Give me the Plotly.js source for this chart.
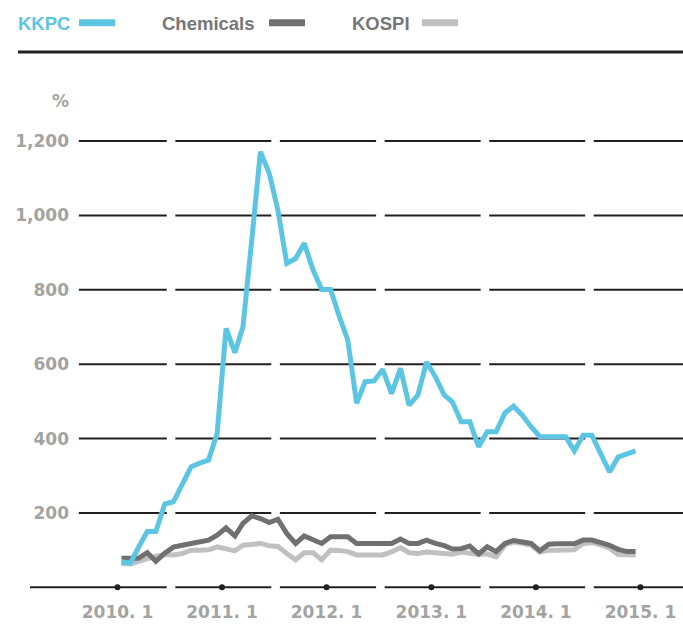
<!DOCTYPE html>
<html><head><meta charset="utf-8">
<script src="https://cdn.plot.ly/plotly-3.0.1.min.js"></script>
<style>html,body{margin:0;padding:0;background:#fff}#chart{width:683px;height:624px}</style>
</head><body><div id="chart"></div>
<script>
// ---- data ----
const startYear = 2010;            // first monthly observation: 2010.1
const seriesNames = ['KKPC', 'Chemicals', 'KOSPI'];
const kkpc = [69, 65, 107, 150, 150, 224, 230, 277, 324, 334, 342, 414,
  696, 631, 700, 935, 1171, 1113, 1014, 871, 884, 925, 853, 801,
  801, 727, 665, 495, 553, 555, 586, 521, 589, 490, 517, 606,
  566, 517, 499, 445, 445, 378, 418, 418, 469, 487, 462, 432,
  405, 405, 405, 405, 367, 409, 409, 358, 310, 350, 359, 367];
const chemicals = [78, 78, 78, 93, 70, 92, 108, 113, 117, 121, 127, 140,
  160, 138, 172, 192, 185, 174, 183, 145, 118, 138, 128, 118,
  136, 136, 136, 118, 118, 118, 118, 118, 130, 118, 118, 127,
  118, 112, 103, 104, 111, 90, 109, 96, 118, 126, 122, 118,
  98, 116, 117, 117, 117, 127, 127, 120, 113, 102, 96, 96];
const kospi = [64, 63, 70, 78, 84, 88, 87, 91, 100, 100, 101, 109,
  102, 98, 113, 115, 118, 112, 110, 91, 74, 93, 93, 74,
  100, 99, 96, 87, 87, 86, 87, 95, 107, 93, 91, 95,
  93, 91, 89, 95, 92, 88, 90, 82, 114, 122, 118, 114,
  95, 100, 100, 100, 101, 118, 120, 114, 105, 88, 87, 87];
const yearTicks = ['2010-01-01', '2011-01-01', '2012-01-01', '2013-01-01', '2014-01-01', '2015-01-01'];
const yearLabels = ['2010. 1', '2011. 1', '2012. 1', '2013. 1', '2014. 1', '2015. 1'];
const yTicks = [200, 400, 600, 800, 1000, 1200];
const yTickLabels = ['200', '400', '600', '800', '1,000', '1,200'];

// ---- build ----
const months = kkpc.map((_, i) => {
  const d = new Date(Date.UTC(startYear, i, 15));
  return d.toISOString().slice(0, 10);
});

const colors = ['#5bc5e3', '#707070', '#c0c0c0'];
const textColors = ['#5bc5e3', '#767676', '#767676'];
const gridColor = '#231f20';
const labelColor = '#a3a3a3';
const labelFont = {family: 'DejaVu Sans', size: 17, color: labelColor, weight: 'bold'};

const W = 683, H = 624;
const M = {l: 30, r: 0, t: 60, b: 24};
const px = x => (x - M.l) / (W - M.l - M.r);
const py = y => (H - M.b - y) / (H - M.t - M.b);

const xRange = ['2009-03-01 12:00', '2015-05-29 14:00'];
const yRange = [-34.1, 1417.9];

// gridline segments, broken mid-year
const yrs = yearTicks.map(d => d.slice(0, 4));
function segments(firstStart) {
  const starts = [firstStart].concat(yrs.slice(0, 5).map(y => y + '-07-22'));
  const ends = yrs.slice(0, 5).map(y => y + '-06-22').concat([xRange[1]]);
  return starts.map((s, i) => [s, ends[i]]);
}
const shapes = [];
yTicks.forEach(v => {
  segments('2009-08-19').forEach(([a, b]) => shapes.push({
    type: 'line', xref: 'x', yref: 'y', x0: a, x1: b, y0: v, y1: v,
    line: {color: gridColor, width: 2}, layer: 'below'
  }));
});
segments(xRange[0]).forEach(([a, b]) => shapes.push({
  type: 'line', xref: 'x', yref: 'y', x0: a, x1: b, y0: 0, y1: 0,
  line: {color: gridColor, width: 2}, layer: 'below'
}));
// top rule
shapes.push({type: 'line', xref: 'paper', yref: 'paper', x0: px(18), x1: px(683), y0: py(52), y1: py(52),
  line: {color: gridColor, width: 3}});

// legend (text then swatch)
const legTextX = [16, 160, 350];
const legSwX = [79, 269, 422];
const annotations = [];
seriesNames.forEach((n, i) => {
  annotations.push({xref: 'paper', yref: 'paper', x: px(legTextX[i]), y: py(23), xanchor: 'left', yanchor: 'middle',
    text: n, showarrow: false, font: {family: 'Liberation Sans', size: 18.5, color: textColors[i], weight: 'bold'}});
  shapes.push({type: 'rect', xref: 'paper', yref: 'paper', x0: px(legSwX[i]), x1: px(legSwX[i] + 36),
    y0: py(26.3), y1: py(19.3), fillcolor: colors[i], line: {width: 0}});
});
annotations.push({xref: 'paper', yref: 'paper', x: px(71), y: py(101), xanchor: 'right', yanchor: 'middle',
  text: '%', showarrow: false, font: labelFont});

const seriesData = [kkpc, chemicals, kospi];
const traces = [2, 1, 0].map(i => ({
  type: 'scatter', mode: 'lines', x: months, y: seriesData[i], name: seriesNames[i],
  line: {color: colors[i], width: 5}, hoverinfo: 'skip'
}));
traces.push({
  type: 'scatter', mode: 'markers', x: yearTicks, y: yearTicks.map(() => 0),
  marker: {color: gridColor, size: 6}, cliponaxis: false, hoverinfo: 'skip'
});

const layout = {
  width: W, height: H, margin: M, showlegend: false,
  paper_bgcolor: '#fff', plot_bgcolor: '#fff',
  xaxis: {type: 'date', range: xRange, tickvals: yearTicks, ticktext: yearLabels,
    showgrid: false, zeroline: false, showline: false, ticks: '', tickfont: labelFont},
  yaxis: {range: yRange, anchor: 'free', position: px(79), tickvals: yTicks, ticktext: yTickLabels,
    showgrid: false, zeroline: false, showline: false, ticks: '', tickfont: labelFont, ticklabelstandoff: 10},
  shapes: shapes, annotations: annotations
};
Plotly.newPlot('chart', traces, layout, {displayModeBar: false, staticPlot: true});
</script></body></html>
